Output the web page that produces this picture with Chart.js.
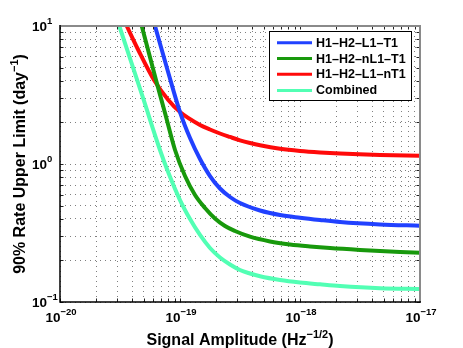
<!DOCTYPE html>
<html><head><meta charset="utf-8">
<script src="https://cdn.jsdelivr.net/npm/chart.js@4/dist/chart.umd.min.js"></script>
<style>html,body{margin:0;padding:0;background:#fff}canvas{display:block}</style>
</head><body>
<canvas id="c" width="463" height="348"></canvas>
<script>
// ---- data ----
const seriesLabels = ['H1–H2–L1–T1', 'H1–H2–nL1–T1', 'H1–H2–L1–nT1', 'Combined'];
const seriesColors = ['#2141ff', '#18990c', '#ff0a0a', '#52ffb4'];

const amplitudeBlue = [6.19e-20, 7.87e-20, 1.0e-19, 1.212e-19, 1.468e-19, 1.778e-19, 2.154e-19, 2.610e-19, 3.162e-19, 4.642e-19, 6.813e-19, 1e-18, 1.468e-18, 2.154e-18, 4.642e-18, 1e-17];
const rateBlue      = [10, 4.80, 2.38, 1.543, 1.087, 0.818, 0.6645, 0.5766, 0.5214, 0.4603, 0.4269, 0.408, 0.3928, 0.3799, 0.365, 0.357];

const amplitudeGreen = [4.80e-20, 6.31e-20, 7.50e-20, 9.09e-20, 1.101e-19, 1.334e-19, 1.616e-19, 1.957e-19, 2.371e-19, 2.873e-19, 3.831e-19, 5.623e-19, 8.254e-19, 1.2115e-18, 1.778e-18, 3.162e-18, 6.813e-18, 1e-17];
const rateGreen      = [10, 4.06, 2.342, 1.263, 0.818, 0.5962, 0.4799, 0.4027, 0.3553, 0.3269, 0.2973, 0.2745, 0.2610, 0.2524, 0.2458, 0.2385, 0.2307, 0.2276];

const amplitudeRed = [3.60e-20, 4.49e-20, 6.07e-20, 7.99e-20, 1.0e-19, 1.468e-19, 1.778e-19, 2.154e-19, 2.610e-19, 3.162e-19, 3.831e-19, 4.642e-19, 6.813e-19, 1e-18, 1.468e-18, 2.154e-18, 4.642e-18, 1e-17];
const rateRed      = [10, 6.70, 4.06, 2.91, 2.38, 1.918, 1.778, 1.6635, 1.5697, 1.4851, 1.4196, 1.3662, 1.2885, 1.2421, 1.2115, 1.1896, 1.162, 1.148];

const amplitudeCombined = [3.12e-20, 4.92e-20, 6.81e-20, 7.84e-20, 1.0e-19, 1.212e-19, 1.468e-19, 1.778e-19, 2.154e-19, 2.610e-19, 3.162e-19, 3.831e-19, 4.642e-19, 6.813e-19, 1e-18, 1.468e-18, 2.154e-18, 4.642e-18, 1e-17];
const rateCombined      = [10, 3.01, 1.263, 0.905, 0.548, 0.3994, 0.306, 0.2462, 0.2101, 0.1870, 0.1705, 0.1609, 0.1536, 0.1443, 0.1384, 0.1343, 0.1306, 0.1259, 0.1242];

const xTickValues = [1e-20, 1e-19, 1e-18, 1e-17];
const xTickExponents = ['−20', '−19', '−18', '−17'];
const yTickValues = [0.1, 1, 10];
const yTickExponents = ['−1', '0', '1'];
const xTitle = ['Signal Amplitude (Hz', '−1/2', ')'];
const yTitle = ['90% Rate Upper Limit (day', '−1', ')'];

// ---- build chart ----
const FONT = '"Liberation Sans", Arial, Helvetica, sans-serif';
const xsAll = [amplitudeBlue, amplitudeGreen, amplitudeRed, amplitudeCombined];
const ysAll = [rateBlue, rateGreen, rateRed, rateCombined];
const drawOrder = [1, 2, 3, 0];

const datasets = seriesLabels.map((lab, k) => ({
  label: lab,
  data: xsAll[k].map((x, i) => ({x: x, y: ysAll[k][i]})),
  borderColor: seriesColors[k],
  backgroundColor: seriesColors[k],
  borderWidth: 4,
  pointRadius: 0,
  showLine: true,
  fill: false,
  cubicInterpolationMode: 'monotone',
  clip: 0,
  order: drawOrder[k]
}));

function logTicks(scale) {
  const out = [];
  const e0 = Math.round(Math.log10(scale.min));
  const e1 = Math.round(Math.log10(scale.max));
  for (let e = e0; e <= e1; e++) {
    for (let m = 1; m <= 9; m++) {
      const v = Number(m + 'e' + e);
      if (v >= scale.min * 0.999 && v <= scale.max * 1.001) out.push({value: v, major: m === 1});
    }
  }
  scale.ticks = out;
}

function drawRich(ctx, parts, x, y, align) {
  let w = 0;
  parts.forEach(p => { ctx.font = 'bold ' + p[1] + 'px ' + FONT; w += ctx.measureText(p[0]).width; });
  let cx = align === 'center' ? x - w / 2 : (align === 'right' ? x - w : x);
  ctx.textAlign = 'left';
  ctx.textBaseline = 'alphabetic';
  parts.forEach(p => {
    ctx.font = 'bold ' + p[1] + 'px ' + FONT;
    ctx.fillText(p[0], cx, y + p[2]);
    cx += ctx.measureText(p[0]).width;
  });
}

const decorPlugin = {
  id: 'decor',
  afterDraw(chart) {
    const ctx = chart.ctx;
    const a = chart.chartArea;
    const xs = chart.scales.x, ys = chart.scales.y;
    ctx.save();

    // inward tick marks
    ctx.strokeStyle = '#222';
    ctx.lineWidth = 1;
    const tl = 3.5;
    ctx.beginPath();
    xs.ticks.forEach(t => {
      const p = Math.round(xs.getPixelForValue(t.value)) + 0.5;
      ctx.moveTo(p, a.bottom); ctx.lineTo(p, a.bottom - tl);
      ctx.moveTo(p, a.top); ctx.lineTo(p, a.top + tl);
    });
    ys.ticks.forEach(t => {
      const p = Math.round(ys.getPixelForValue(t.value)) + 0.5;
      ctx.moveTo(a.left, p); ctx.lineTo(a.left + tl, p);
      ctx.moveTo(a.right, p); ctx.lineTo(a.right - tl, p);
    });
    ctx.stroke();

    // box: top/right grey, left/bottom black
    ctx.strokeStyle = '#8a8a8a';
    ctx.lineWidth = 2;
    ctx.beginPath();
    ctx.moveTo(a.left, a.top); ctx.lineTo(a.right, a.top); ctx.lineTo(a.right, a.bottom);
    ctx.stroke();
    ctx.strokeStyle = '#000';
    ctx.lineWidth = 1.5;
    ctx.beginPath();
    ctx.moveTo(a.left, a.top - 1); ctx.lineTo(a.left, a.bottom); ctx.lineTo(a.right + 1, a.bottom);
    ctx.stroke();

    // tick labels
    ctx.fillStyle = '#000';
    xTickValues.forEach((v, i) => {
      const p = xs.getPixelForValue(v);
      drawRich(ctx, [['10', 13.5, 0], [xTickExponents[i], 9.5, -7]], p + 1, a.bottom + 19.5, 'center');
    });
    yTickValues.forEach((v, i) => {
      const p = ys.getPixelForValue(v);
      ctx.font = 'bold 13.5px ' + FONT;
      const w10 = ctx.measureText('10').width;
      drawRich(ctx, [['10', 13.5, 0], [yTickExponents[i], 9.5, -7.5]], a.left - 13 - w10, p + 5, 'left');
    });

    // axis titles
    drawRich(ctx, [[xTitle[0], 16, 0], [xTitle[1], 11, -7], [xTitle[2], 16, 0]], (a.left + a.right) / 2, 345, 'center');
    ctx.save();
    ctx.translate(25, (a.top + a.bottom) / 2);
    ctx.rotate(-Math.PI / 2);
    drawRich(ctx, [[yTitle[0], 16, 0], [yTitle[1], 11, -7], [yTitle[2], 16, 0]], 0, 0, 'center');
    ctx.restore();

    // legend
    const lx = 269.5, ly = 31.5, lw = 142, lh = 69;
    ctx.fillStyle = '#fff';
    ctx.fillRect(lx, ly, lw, lh);
    ctx.strokeStyle = '#000';
    ctx.lineWidth = 1;
    ctx.strokeRect(lx, ly, lw, lh);
    const rows = [42.7, 58.6, 74.3, 90.5];
    chart.data.datasets.forEach((ds, i) => {
      ctx.strokeStyle = ds.borderColor;
      ctx.lineWidth = 3;
      ctx.beginPath();
      ctx.moveTo(277, rows[i]); ctx.lineTo(312, rows[i]);
      ctx.stroke();
      ctx.fillStyle = '#000';
      ctx.font = 'bold 12.5px ' + FONT;
      ctx.textAlign = 'left';
      ctx.textBaseline = 'middle';
      ctx.fillText(ds.label, 316, rows[i] + 0.5);
    });
    ctx.restore();
  }
};

const gridOpts = {color: 'rgba(0,0,0,0.5)', lineWidth: 1, drawTicks: false};

new Chart(document.getElementById('c'), {
  type: 'scatter',
  data: {datasets: datasets},
  options: {
    responsive: false,
    animation: false,
    devicePixelRatio: 1,
    layout: {padding: {left: 60, right: 43, top: 26, bottom: 46}},
    plugins: {legend: {display: false}, tooltip: {enabled: false}},
    scales: {
      x: {type: 'logarithmic', min: 1e-20, max: 1e-17,
          ticks: {display: false}, grid: gridOpts,
          border: {display: false, dash: [1, 4]},
          afterBuildTicks: logTicks},
      y: {type: 'logarithmic', min: 0.1, max: 10,
          ticks: {display: false}, grid: gridOpts,
          border: {display: false, dash: [1, 4]},
          afterBuildTicks: logTicks}
    }
  },
  plugins: [decorPlugin]
});
</script>
</body></html>
